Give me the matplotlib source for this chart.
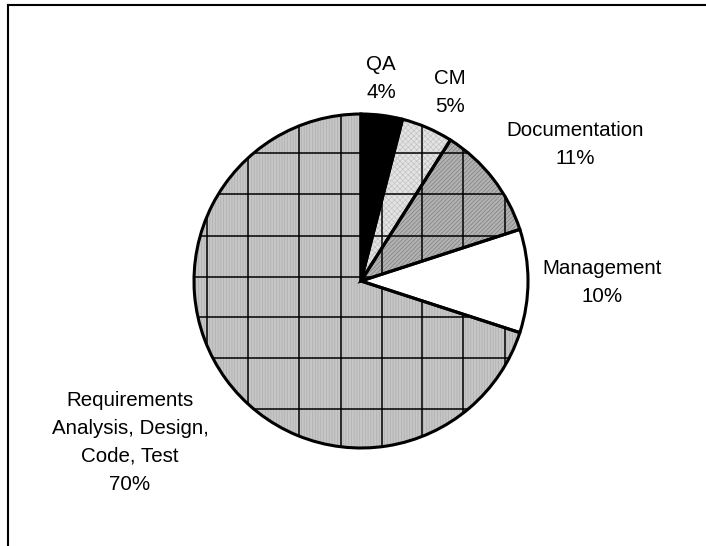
import matplotlib
matplotlib.use("Agg")
import matplotlib.pyplot as plt
from matplotlib.patches import Wedge
from matplotlib.lines import Line2D

# data
categories = ["QA", "CM", "Documentation", "Management",
              "Requirements\nAnalysis, Design,\nCode, Test"]
shares = [4, 5, 11, 10, 70]

# look of each slice: face, hatch, hatch colour, gets grid lines
faces = ["black", "#e4e4e4", "#b2b2b2", "white", "#c6c6c6"]
hatches = [None, "xxxxxx", "////////", None, "||||||"]
hatch_cols = ["black", "#c2c2c2", "#808080", "white", "#aeaeae"]
gridded = [False, True, True, False, True]

# label centres in pixel space (x, y from top)
label_pos = [(381, 78), (450, 92), (575, 144), (602, 282), (130, 442)]

W, H = 706, 546
plt.rcParams["font.family"] = ["Liberation Sans", "DejaVu Sans"]
plt.rcParams["hatch.linewidth"] = 0.5

fig = plt.figure(figsize=(W / 100, H / 100), dpi=100)
ax = fig.add_axes([0, 0, 1, 1])

cx, cy, r = 361, H - 281, 167
wedges, _ = ax.pie(shares, startangle=90, counterclock=False,
                   center=(cx, cy), radius=r,
                   wedgeprops=dict(linewidth=0))

# grid that sits over the patterned slices
vlines = [207, 248, 299, 341, 382, 422, 463, 505]
hlines = [153, 194, 236, 277, 317, 358, 409]

for w, fc, ht, hc, g in zip(wedges, faces, hatches, hatch_cols, gridded):
    w.set_facecolor(fc)
    w.set_edgecolor(hc)
    if ht:
        w.set_hatch(ht)
    w.set_zorder(1)
    if g:
        for x in vlines:
            ln = Line2D([x, x], [0, H], color="black", lw=1.1, zorder=2)
            ax.add_line(ln)
            ln.set_clip_path(w)
        for y in hlines:
            ln = Line2D([0, W], [H - y, H - y], color="black", lw=1.1, zorder=2)
            ax.add_line(ln)
            ln.set_clip_path(w)
    ax.add_patch(Wedge(w.center, w.r, w.theta1, w.theta2, fill=False,
                       ec="black", lw=2.2, zorder=3))

for name, val, (x, y) in zip(categories, shares, label_pos):
    ax.text(x, H - y, f"{name}\n{val}%", ha="center", va="center",
            fontsize=14.8, linespacing=1.6)

# frame: only top and left edges
ax.add_line(Line2D([8, W], [H - 5, H - 5], color="black", lw=1.5))
ax.add_line(Line2D([8, 8], [0, H - 5], color="black", lw=1.5))

ax.set_xlim(0, W)
ax.set_ylim(0, H)
ax.set_aspect("equal")
ax.axis("off")

fig.savefig("out.png", dpi=100)
